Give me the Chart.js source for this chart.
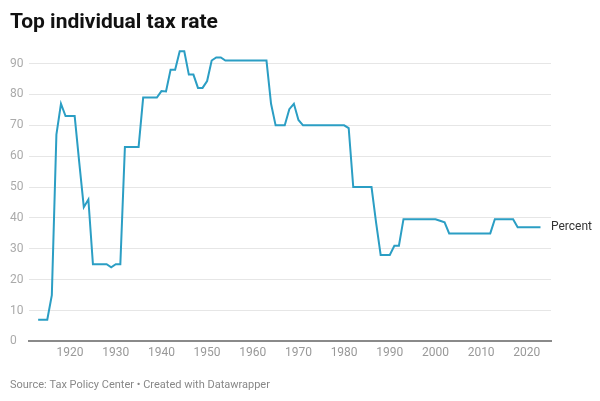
<!DOCTYPE html>
<html>
<head>
<meta charset="utf-8">
<script src="https://cdn.jsdelivr.net/npm/chart.js@4.4.1/dist/chart.umd.min.js"></script>
<style>
  html, body { margin: 0; padding: 0; background: #fff; }
  #wrap { position: relative; width: 600px; height: 401px; }
</style>
</head>
<body>
<div id="wrap"><canvas id="taxChart" width="600" height="401"></canvas></div>
<script>
const years = [
  1913, 1914, 1915, 1916, 1917, 1918, 1919, 1920, 1921, 1922,
  1923, 1924, 1925, 1926, 1927, 1928, 1929, 1930, 1931, 1932,
  1933, 1934, 1935, 1936, 1937, 1938, 1939, 1940, 1941, 1942,
  1943, 1944, 1945, 1946, 1947, 1948, 1949, 1950, 1951, 1952,
  1953, 1954, 1955, 1956, 1957, 1958, 1959, 1960, 1961, 1962,
  1963, 1964, 1965, 1966, 1967, 1968, 1969, 1970, 1971, 1972,
  1973, 1974, 1975, 1976, 1977, 1978, 1979, 1980, 1981, 1982,
  1983, 1984, 1985, 1986, 1987, 1988, 1989, 1990, 1991, 1992,
  1993, 1994, 1995, 1996, 1997, 1998, 1999, 2000, 2001, 2002,
  2003, 2004, 2005, 2006, 2007, 2008, 2009, 2010, 2011, 2012,
  2013, 2014, 2015, 2016, 2017, 2018, 2019, 2020, 2021, 2022,
  2023
];
const topRate = [
  7, 7, 7, 15, 67, 77, 73, 73, 73, 58,
  43.5, 46, 25, 25, 25, 25, 24, 25, 25, 63,
  63, 63, 63, 79, 79, 79, 79, 81.1, 81, 88,
  88, 94, 94, 86.45, 86.45, 82.13, 82.13, 84.36, 91, 92,
  92, 91, 91, 91, 91, 91, 91, 91, 91, 91,
  91, 77, 70, 70, 70, 75.25, 77, 71.75, 70, 70,
  70, 70, 70, 70, 70, 70, 70, 70, 69.13, 50,
  50, 50, 50, 50, 38.5, 28, 28, 28, 31, 31,
  39.6, 39.6, 39.6, 39.6, 39.6, 39.6, 39.6, 39.6, 39.1, 38.6,
  35, 35, 35, 35, 35, 35, 35, 35, 35, 35,
  39.6, 39.6, 39.6, 39.6, 39.6, 37, 37, 37, 37, 37,
  37
];
const xTicks = [1920, 1930, 1940, 1950, 1960, 1970, 1980, 1990, 2000, 2010, 2020];
const yTicks = [0, 10, 20, 30, 40, 50, 60, 70, 80, 90];
const seriesName = 'Percent';
const titleText = 'Top individual tax rate';
const sourceText = 'Source: Tax Policy Center \u2022 Created with Datawrapper';

const lineColor = '#2b9ec4';

// label at the end of the line
const endLabel = {
  id: 'endLabel',
  afterDatasetsDraw(chart) {
    const meta = chart.getDatasetMeta(0);
    const last = meta.data[meta.data.length - 1];
    const ctx = chart.ctx;
    ctx.save();
    ctx.font = '12px Roboto';
    ctx.fillStyle = '#333';
    ctx.textBaseline = 'middle';
    ctx.fillText(seriesName, chart.chartArea.right, last.y);
    ctx.restore();
  }
};

new Chart(document.getElementById('taxChart'), {
  type: 'line',
  data: {
    datasets: [{
      label: seriesName,
      data: years.map((y, i) => ({ x: y, y: topRate[i] })),
      borderColor: lineColor,
      borderWidth: 2,
      pointRadius: 0,
      tension: 0,
      clip: false
    }]
  },
  options: {
    responsive: false,
    animation: false,
    layout: { padding: { left: 10, right: 49, top: 0, bottom: 4 } },
    plugins: {
      legend: { display: false },
      tooltip: { enabled: false },
      title: {
        display: true,
        text: titleText,
        align: 'start',
        color: '#111',
        font: { family: 'Roboto', size: 21, weight: 'bold' },
        padding: { top: 10, bottom: 13 }
      },
      subtitle: {
        display: true,
        position: 'bottom',
        text: sourceText,
        align: 'start',
        color: '#888',
        font: { family: 'Roboto', size: 11 },
        padding: { top: 15, bottom: 5 }
      }
    },
    scales: {
      x: {
        type: 'linear',
        min: 1911,
        max: 2025.3,
        afterBuildTicks(scale) { scale.ticks = xTicks.map(v => ({ value: v })); },
        ticks: {
          color: '#999',
          font: { family: 'Roboto', size: 12 },
          maxRotation: 0,
          padding: 4,
          callback: v => String(v)
        },
        grid: { display: false, drawTicks: false },
        border: { display: true, color: '#8a8a8a', width: 2 }
      },
      y: {
        min: 0,
        max: 95,
        afterBuildTicks(scale) { scale.ticks = yTicks.map(v => ({ value: v })); },
        afterFit(scale) { scale.width = 19; },
        ticks: {
          color: '#aaa',
          font: { family: 'Roboto', size: 12 },
          crossAlign: 'far',
          padding: 7
        },
        grid: {
          color: ctx => ctx.tick.value === 0 ? 'rgba(0,0,0,0)' : '#e6e6e6',
          lineWidth: 1,
          drawTicks: false
        },
        border: { display: false }
      }
    }
  },
  plugins: [endLabel]
});
</script>
</body>
</html>
